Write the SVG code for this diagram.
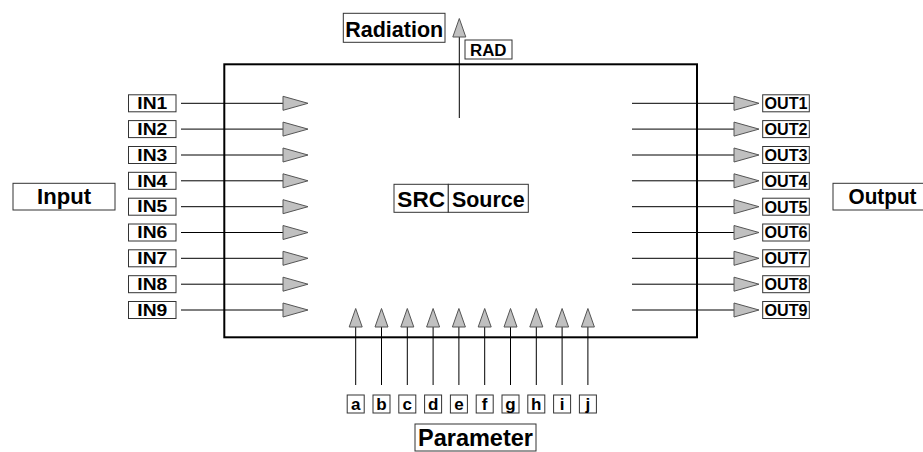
<svg xmlns="http://www.w3.org/2000/svg" width="923" height="452" viewBox="0 0 923 452">
<style>
text{font-family:"Liberation Sans",Arial,sans-serif;font-weight:bold;fill:#000;text-anchor:middle}
.box{fill:#fff;stroke:#333;stroke-width:1}
.ln{stroke:#000;stroke-width:1;fill:none}
.tri{fill:#c0c0c0;stroke:#555;stroke-width:1}
.s{font-size:16px}
.o{font-size:16px}
.b{font-size:22px}
.p{font-size:17px}
</style>
<defs>
<polygon id="tr" class="tri" points="0,-7 25,0 0,7"/>
<polygon id="tu" class="tri" points="-6.5,0 0,-18.5 6.5,0"/>
</defs>
<g id="source">
<rect x="224.3" y="64.3" width="472.7" height="273" fill="#fff" stroke="#000" stroke-width="2"/>
<rect class="box" x="394" y="184.3" width="54.3" height="28"/>
<text class="b" x="421.2" y="207" textLength="47.7" lengthAdjust="spacingAndGlyphs">SRC</text>
<rect class="box" x="448.3" y="184.3" width="80" height="28"/>
<text class="b" x="488.3" y="207" textLength="72.7" lengthAdjust="spacingAndGlyphs">Source</text>
</g>
<g id="connectors">
<line class="ln" x1="181" y1="103.3" x2="283" y2="103.3"/>
<line class="ln" x1="181" y1="129.1" x2="283" y2="129.1"/>
<line class="ln" x1="181" y1="155" x2="283" y2="155"/>
<line class="ln" x1="181" y1="180.8" x2="283" y2="180.8"/>
<line class="ln" x1="181" y1="206.7" x2="283" y2="206.7"/>
<line class="ln" x1="181" y1="232.5" x2="283" y2="232.5"/>
<line class="ln" x1="181" y1="258.3" x2="283" y2="258.3"/>
<line class="ln" x1="181" y1="284.2" x2="283" y2="284.2"/>
<line class="ln" x1="181" y1="310" x2="283" y2="310"/>
<use href="#tr" x="283" y="103.3"/><use href="#tr" x="283" y="129.1"/><use href="#tr" x="283" y="155"/>
<use href="#tr" x="283" y="180.8"/><use href="#tr" x="283" y="206.7"/><use href="#tr" x="283" y="232.5"/>
<use href="#tr" x="283" y="258.3"/><use href="#tr" x="283" y="284.2"/><use href="#tr" x="283" y="310"/>
<line class="ln" x1="632" y1="103.3" x2="734" y2="103.3"/>
<line class="ln" x1="632" y1="129.1" x2="734" y2="129.1"/>
<line class="ln" x1="632" y1="155" x2="734" y2="155"/>
<line class="ln" x1="632" y1="180.8" x2="734" y2="180.8"/>
<line class="ln" x1="632" y1="206.7" x2="734" y2="206.7"/>
<line class="ln" x1="632" y1="232.5" x2="734" y2="232.5"/>
<line class="ln" x1="632" y1="258.3" x2="734" y2="258.3"/>
<line class="ln" x1="632" y1="284.2" x2="734" y2="284.2"/>
<line class="ln" x1="632" y1="310" x2="734" y2="310"/>
<use href="#tr" x="734" y="103.3"/><use href="#tr" x="734" y="129.1"/><use href="#tr" x="734" y="155"/>
<use href="#tr" x="734" y="180.8"/><use href="#tr" x="734" y="206.7"/><use href="#tr" x="734" y="232.5"/>
<use href="#tr" x="734" y="258.3"/><use href="#tr" x="734" y="284.2"/><use href="#tr" x="734" y="310"/>
<line class="ln" x1="459.3" y1="118" x2="459.3" y2="37"/>
<use href="#tu" x="459.3" y="37"/>
<line class="ln" x1="355.7" y1="385" x2="355.7" y2="327"/>
<line class="ln" x1="381.5" y1="385" x2="381.5" y2="327"/>
<line class="ln" x1="407.3" y1="385" x2="407.3" y2="327"/>
<line class="ln" x1="433.1" y1="385" x2="433.1" y2="327"/>
<line class="ln" x1="458.9" y1="385" x2="458.9" y2="327"/>
<line class="ln" x1="484.7" y1="385" x2="484.7" y2="327"/>
<line class="ln" x1="510.5" y1="385" x2="510.5" y2="327"/>
<line class="ln" x1="536.3" y1="385" x2="536.3" y2="327"/>
<line class="ln" x1="562.1" y1="385" x2="562.1" y2="327"/>
<line class="ln" x1="587.9" y1="385" x2="587.9" y2="327"/>
<use href="#tu" x="355.7" y="327"/><use href="#tu" x="381.5" y="327"/><use href="#tu" x="407.3" y="327"/>
<use href="#tu" x="433.1" y="327"/><use href="#tu" x="458.9" y="327"/><use href="#tu" x="484.7" y="327"/>
<use href="#tu" x="510.5" y="327"/><use href="#tu" x="536.3" y="327"/><use href="#tu" x="562.1" y="327"/>
<use href="#tu" x="587.9" y="327"/>
</g>
<g id="input"><rect class="box" x="13" y="183.3" width="102" height="26.7"/><text class="b" x="64" y="204.3" textLength="54" lengthAdjust="spacingAndGlyphs">Input</text></g>
<g id="output"><rect class="box" x="833" y="183.3" width="102" height="26.7"/><text class="b" x="882.5" y="204.3" textLength="68" lengthAdjust="spacingAndGlyphs">Output</text></g>
<g id="radiation"><rect class="box" x="343.3" y="13.3" width="101.7" height="29"/><text class="b" x="394.2" y="36.5" textLength="98" lengthAdjust="spacingAndGlyphs">Radiation</text></g>
<g id="parameter"><rect class="box" x="415" y="424" width="121" height="27"/><text class="b" x="475.5" y="446" textLength="115" lengthAdjust="spacingAndGlyphs" style="font-size:24px">Parameter</text></g>
<g id="rad"><rect class="box" x="465" y="40" width="47" height="19"/><text x="488.3" y="55.5" style="font-size:16px" textLength="36.5" lengthAdjust="spacingAndGlyphs">RAD</text></g>
<g id="in1"><rect class="box" x="128.5" y="94.8" width="47.5" height="17"/><text class="s" x="152.3" y="109" textLength="30" lengthAdjust="spacingAndGlyphs">IN1</text></g>
<g id="in2"><rect class="box" x="128.5" y="120.6" width="47.5" height="17"/><text class="s" x="152.3" y="134.8" textLength="30" lengthAdjust="spacingAndGlyphs">IN2</text></g>
<g id="in3"><rect class="box" x="128.5" y="146.5" width="47.5" height="17"/><text class="s" x="152.3" y="160.7" textLength="30" lengthAdjust="spacingAndGlyphs">IN3</text></g>
<g id="in4"><rect class="box" x="128.5" y="172.3" width="47.5" height="17"/><text class="s" x="152.3" y="186.5" textLength="30" lengthAdjust="spacingAndGlyphs">IN4</text></g>
<g id="in5"><rect class="box" x="128.5" y="198.2" width="47.5" height="17"/><text class="s" x="152.3" y="212.4" textLength="30" lengthAdjust="spacingAndGlyphs">IN5</text></g>
<g id="in6"><rect class="box" x="128.5" y="224" width="47.5" height="17"/><text class="s" x="152.3" y="238.2" textLength="30" lengthAdjust="spacingAndGlyphs">IN6</text></g>
<g id="in7"><rect class="box" x="128.5" y="249.8" width="47.5" height="17"/><text class="s" x="152.3" y="264" textLength="30" lengthAdjust="spacingAndGlyphs">IN7</text></g>
<g id="in8"><rect class="box" x="128.5" y="275.7" width="47.5" height="17"/><text class="s" x="152.3" y="289.9" textLength="30" lengthAdjust="spacingAndGlyphs">IN8</text></g>
<g id="in9"><rect class="box" x="128.5" y="301.5" width="47.5" height="17"/><text class="s" x="152.3" y="315.7" textLength="30" lengthAdjust="spacingAndGlyphs">IN9</text></g>
<g id="out1"><rect class="box" x="762.7" y="94.8" width="46.6" height="17"/><text class="o" x="786" y="109.2" textLength="43" lengthAdjust="spacingAndGlyphs">OUT1</text></g>
<g id="out2"><rect class="box" x="762.7" y="120.6" width="46.6" height="17"/><text class="o" x="786" y="135" textLength="43" lengthAdjust="spacingAndGlyphs">OUT2</text></g>
<g id="out3"><rect class="box" x="762.7" y="146.5" width="46.6" height="17"/><text class="o" x="786" y="160.9" textLength="43" lengthAdjust="spacingAndGlyphs">OUT3</text></g>
<g id="out4"><rect class="box" x="762.7" y="172.3" width="46.6" height="17"/><text class="o" x="786" y="186.7" textLength="43" lengthAdjust="spacingAndGlyphs">OUT4</text></g>
<g id="out5"><rect class="box" x="762.7" y="198.2" width="46.6" height="17"/><text class="o" x="786" y="212.6" textLength="43" lengthAdjust="spacingAndGlyphs">OUT5</text></g>
<g id="out6"><rect class="box" x="762.7" y="224" width="46.6" height="17"/><text class="o" x="786" y="238.4" textLength="43" lengthAdjust="spacingAndGlyphs">OUT6</text></g>
<g id="out7"><rect class="box" x="762.7" y="249.8" width="46.6" height="17"/><text class="o" x="786" y="264.2" textLength="43" lengthAdjust="spacingAndGlyphs">OUT7</text></g>
<g id="out8"><rect class="box" x="762.7" y="275.7" width="46.6" height="17"/><text class="o" x="786" y="290.1" textLength="43" lengthAdjust="spacingAndGlyphs">OUT8</text></g>
<g id="out9"><rect class="box" x="762.7" y="301.5" width="46.6" height="17"/><text class="o" x="786" y="315.9" textLength="43" lengthAdjust="spacingAndGlyphs">OUT9</text></g>
<g id="pa"><rect class="box" x="347.2" y="395" width="17" height="18"/><text class="p" x="355.7" y="410">a</text></g>
<g id="pb"><rect class="box" x="373" y="395" width="17" height="18"/><text class="p" x="381.5" y="410">b</text></g>
<g id="pc"><rect class="box" x="398.8" y="395" width="17" height="18"/><text class="p" x="407.3" y="410">c</text></g>
<g id="pd"><rect class="box" x="424.6" y="395" width="17" height="18"/><text class="p" x="433.1" y="410">d</text></g>
<g id="pe"><rect class="box" x="450.4" y="395" width="17" height="18"/><text class="p" x="458.9" y="410">e</text></g>
<g id="pf"><rect class="box" x="476.2" y="395" width="17" height="18"/><text class="p" x="484.7" y="410">f</text></g>
<g id="pg"><rect class="box" x="502" y="395" width="17" height="18"/><text class="p" x="510.5" y="410">g</text></g>
<g id="ph"><rect class="box" x="527.8" y="395" width="17" height="18"/><text class="p" x="536.3" y="410">h</text></g>
<g id="pi"><rect class="box" x="553.6" y="395" width="17" height="18"/><text class="p" x="562.1" y="410">i</text></g>
<g id="pj"><rect class="box" x="579.4" y="395" width="17" height="18"/><text class="p" x="587.9" y="410">j</text></g>
</svg>
